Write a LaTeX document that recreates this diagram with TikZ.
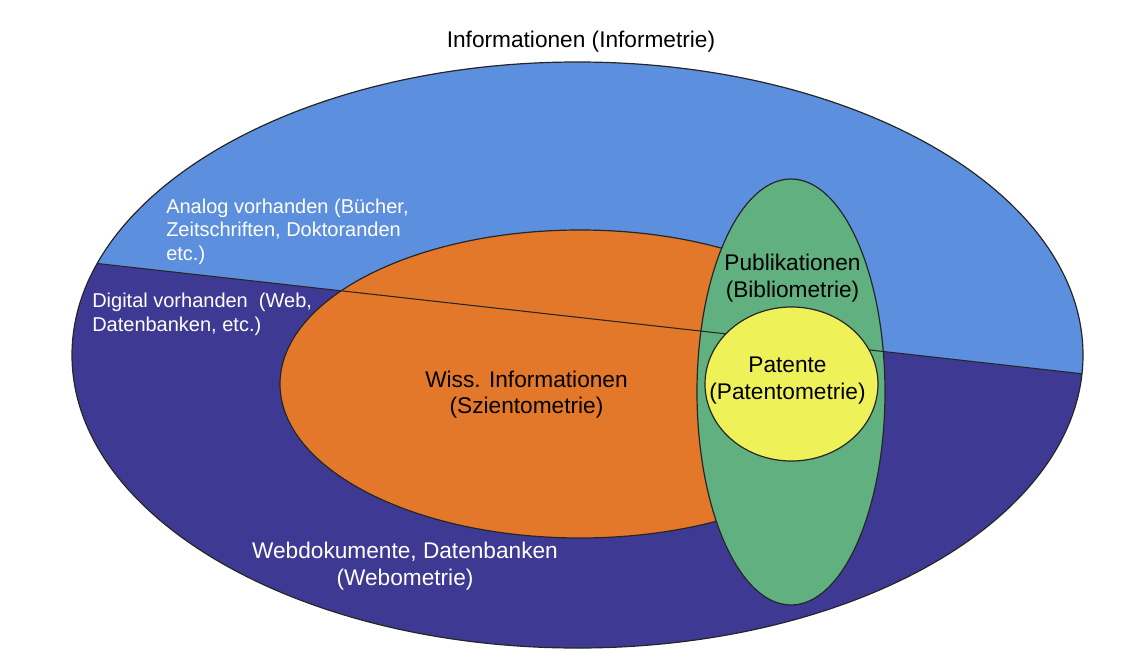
\documentclass[tikz,border=0pt]{standalone}
\usepackage{fontspec}
\setmainfont{Liberation Sans}
\definecolor{analogblau}{RGB}{92,144,222}
\definecolor{digitalblau}{RGB}{62,58,148}
\definecolor{wissorange}{RGB}{228,120,42}
\definecolor{publgruen}{RGB}{96,176,128}
\definecolor{patgelb}{RGB}{238,242,88}
\tikzset{
  rand/.style={draw=black!85, line width=0.9pt},
  txt/.style={font=\fontsize{17}{20}\selectfont, align=center, inner sep=0pt},
  wtxt/.style={font=\fontsize{15}{17.6}\selectfont, align=left, text=white, inner sep=0pt},
}

\begin{document}
\begin{tikzpicture}[x=0.75pt,y=-0.75pt]
\useasboundingbox (0,0) rectangle (1121,664);
\fill[white] (0,0) rectangle (1121,664);
\coordinate (mitte) at (577.5,355);
\coordinate (trennL) at (0,252.6);
\coordinate (trennR) at (1121,378.1);
% alle Informationen
\fill[digitalblau] (mitte) ellipse [x radius=505.5, y radius=293];
\begin{scope}
  \clip (mitte) ellipse [x radius=505.5, y radius=293];
  \fill[analogblau] (trennL) -- (trennR) -- (1121,0) -- (0,0) -- cycle;
\end{scope}
\draw[rand] (mitte) ellipse [x radius=505.5, y radius=293];
% Teilmengen
\filldraw[rand, fill=wissorange] (580,384) ellipse [x radius=300, y radius=154];
\filldraw[rand, fill=publgruen] (791,392) ellipse [x radius=94, y radius=213];
\begin{scope}
  \clip (mitte) ellipse [x radius=505.5, y radius=293];
  \draw[black!85, line width=0.8pt] (trennL) -- (trennR);
\end{scope}
\filldraw[rand, fill=patgelb] (791.5,384) ellipse [x radius=86.5, y radius=77];
% Beschriftungen (base = letzte Zeile)
\node[txt, anchor=base] (titel) at (581,47) {Informationen (Informetrie)};
\node[wtxt, anchor=base west] (analog) at (166,260) {Analog vorhanden (Bücher,\\Zeitschriften, Doktoranden\\etc.)};
\node[wtxt, anchor=base west] (digital) at (92,331) {Digital vorhanden\ \ (Web,\\Datenbanken, etc.)};
\node[txt, text=white, anchor=base] (web) at (405,585) {Webdokumente, Datenbanken\\(Webometrie)};
\node[txt, font=\fontsize{17}{19.5}\selectfont, anchor=base] (wiss) at (526.5,413) {Wiss. Informationen\\(Szientometrie)};
\node[txt, anchor=base] (publ) at (792.5,297) {Publikationen\\(Bibliometrie)};
\node[txt, anchor=base] (pat) at (787.5,399) {Patente\\(Patentometrie)};
\end{tikzpicture}
\end{document}
